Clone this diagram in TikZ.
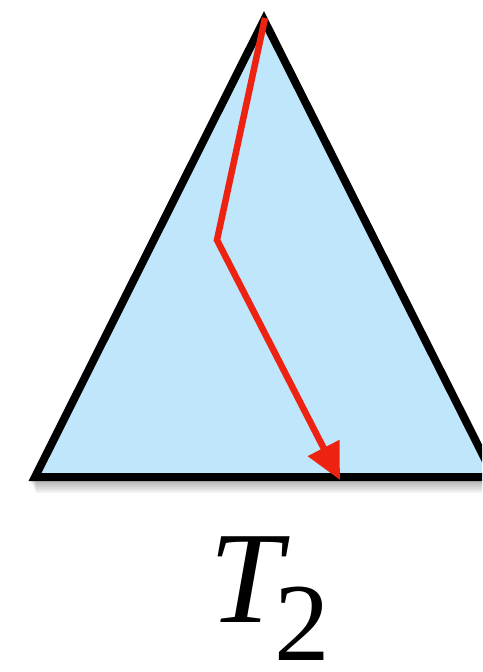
\documentclass[tikz,border=0pt]{standalone}
\usepackage{fontspec}
\setmainfont{Liberation Serif}
\usetikzlibrary{arrows.meta}
\definecolor{tri}{HTML}{C0E6FC}
\definecolor{pathred}{HTML}{EE2211}
\tikzset{
  triangle/.style={draw=black, line width=8pt, fill=tri, line join=miter},
  redpath/.style={draw=pathred, line width=6.5pt, -{Triangle[length=36pt,width=34pt]}, line join=miter},
  labeltext/.style={anchor=base west, inner sep=0pt}
}
\begin{document}
\begin{tikzpicture}[x=1pt,y=-1pt]
\useasboundingbox (0,0) rectangle (482,672);
\begin{scope}
\clip (0,0) rectangle (482,672);
% soft shadow
\foreach \i in {1,...,6}{
  \fill[black, opacity=0.05] (30+\i,481) -- (495,481) -- (495,481+2*\i) -- (30+\i,481+2*\i) -- cycle;
}
\coordinate (A) at (264,20);
\coordinate (B) at (35,477);
\coordinate (C) at (494,477);
\path[triangle] (A) -- (B) -- (C) -- cycle;
\coordinate (p0) at (265,18);
\coordinate (p1) at (217,240);
\coordinate (p2) at (340,480);
\draw[redpath] (p0) -- (p1) -- (p2);
\end{scope}
\node[labeltext] (T) at (209.6,622) {\fontsize{131}{131}\selectfont\itshape T\upshape\kern-8.2pt\raisebox{-38pt}{\fontsize{111}{111}\selectfont 2}};
\end{tikzpicture}
\end{document}
